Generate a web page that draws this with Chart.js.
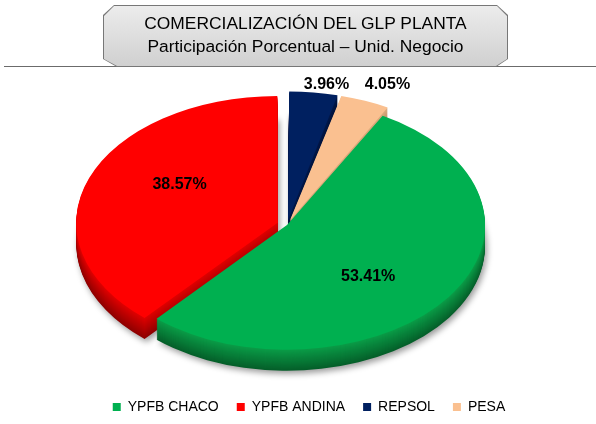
<!DOCTYPE html>
<html><head><meta charset="utf-8">
<script src="https://cdn.jsdelivr.net/npm/chart.js@4.4.1/dist/chart.umd.min.js"></script>
<style>
html,body{margin:0;padding:0;background:#fff;}
#wrap{position:relative;width:596px;height:424px;overflow:hidden;}
#c{position:absolute;left:0;top:0;}
#rule{position:absolute;left:4px;top:66px;width:592px;height:1px;background:#6b6b6b;}
#tbox{position:absolute;left:103px;top:5px;width:405px;height:62px;background:#777;
 clip-path:polygon(11px 0,394px 0,405px 10px,405px 54px,393px 62px,14px 62px,0 54px,0 10px);}
#tin{position:absolute;left:1px;top:1px;width:403px;height:60px;background:linear-gradient(#ececec,#d0d0d0);
 clip-path:polygon(10px 0,393px 0,403px 10px,403px 53px,392px 60px,13px 60px,0 53px,0 10px);}
#ttl{position:absolute;left:103px;top:12px;width:405px;text-align:center;font:17.4px "Liberation Sans",Arial,sans-serif;line-height:23px;color:#000;}
</style></head>
<body><div id="wrap">
<canvas id="c" width="596" height="424"></canvas>
<div id="rule"></div>
<div id="tbox"><div id="tin"></div></div>
<div id="ttl">COMERCIALIZACIÓN DEL GLP PLANTA<br>Participación Porcentual – Unid. Negocio</div>
</div>
<script>
const categories = ['YPFB CHACO', 'YPFB ANDINA', 'REPSOL', 'PESA'];
const shares = [53.41, 38.57, 3.96, 4.05];
const faceColors = ['#00B050', '#FF0000', '#002060', '#FAC090'];
const sideTop = ['#0a9a46', '#dd0000', '#00184a', '#dcaa7c'];
const sideBottom = ['#055f2a', '#8e0000', '#000a24', '#9c7350'];
const explode = [0, 40, 32, 32];

const CX = 287, CY = 225, SY = 0.63, DEPTH = 21;
const LABEL_TILT = 10 * Math.PI / 180;

function hex(h){h=h.replace('#','');return [0,2,4].map(i=>parseInt(h.substr(i,2),16));}
function mix(a,b,t){const A=hex(a),B=hex(b);return 'rgb('+A.map((v,i)=>Math.round(v+(B[i]-v)*t)).join(',')+')';}

function applyT(ctx, el, dy){
  ctx.translate(CX, CY + dy);
  ctx.scale(1, SY);
  ctx.translate(-el.x, -el.y);
}

const pie3d = {
  id: 'pie3d',
  beforeDatasetsDraw(chart){
    const ctx = chart.ctx, meta = chart.getDatasetMeta(0), els = meta.data;
    for (let d = DEPTH; d >= 1; d--) {
      ctx.save();
      applyT(ctx, els[0], d);
      if (d === DEPTH) {
        ctx.shadowColor = 'rgba(0,0,0,0.4)';
        ctx.shadowBlur = 6; ctx.shadowOffsetX = 2; ctx.shadowOffsetY = 3;
      }
      els.forEach((el, i) => {
        const t = (d - 1) / (DEPTH - 1);
        const saved = el.options;
        el.options = Object.assign({}, saved, {backgroundColor: mix(sideTop[i], sideBottom[i], t), borderWidth: 0});
        el.draw(ctx);
        el.options = saved;
      });
      ctx.restore();
    }
    ctx.save();
    applyT(ctx, els[0], 0);
  },
  afterDatasetsDraw(chart){
    const ctx = chart.ctx, els = chart.getDatasetMeta(0).data;
    ctx.restore();
    ctx.save();
    ctx.font = 'bold 16px "Liberation Sans", Arial, sans-serif';
    ctx.fillStyle = '#000';
    ctx.textAlign = 'center';
    ctx.textBaseline = 'middle';
    els.forEach((el, i) => {
      const mid = (el.startAngle + el.endAngle) / 2;
      const off = (el.options.offset || 0) / 4;
      let px, py;
      if (shares[i] > 10) {
        const rr = el.outerRadius * 0.58 + off;
        const a = mid + LABEL_TILT;
        px = CX + Math.cos(a) * rr;
        py = CY + Math.sin(a) * rr * SY;
      } else {
        const rr = el.outerRadius * 1.1 + off;
        const t = rr / Math.abs(Math.sin(mid));
        px = CX + Math.cos(mid) * t + 11;
        py = CY - rr * SY + 2;
      }
      ctx.fillText(shares[i].toFixed(2) + '%', px, py);
    });
    ctx.restore();
  }
};

new Chart(document.getElementById('c'), {
  type: 'pie',
  data: {
    labels: categories,
    datasets: [{
      data: shares,
      backgroundColor: faceColors,
      borderWidth: 0,
      offset: explode,
      hoverOffset: 0,
      clip: false
    }]
  },
  options: {
    responsive: false,
    animation: false,
    events: [],
    rotation: 28.9,
    radius: 198,
    layout: {padding: {left: 22, bottom: 0}},
    plugins: {
      tooltip: {enabled: false},
      title: {display: false},
      legend: {
        position: 'bottom',
        labels: {
          boxWidth: 8, boxHeight: 8, padding: 18, color: '#000',
          font: {family: '"Liberation Sans", Arial, sans-serif', size: 14}
        }
      }
    }
  },
  plugins: [pie3d]
});
</script>
</body></html>
